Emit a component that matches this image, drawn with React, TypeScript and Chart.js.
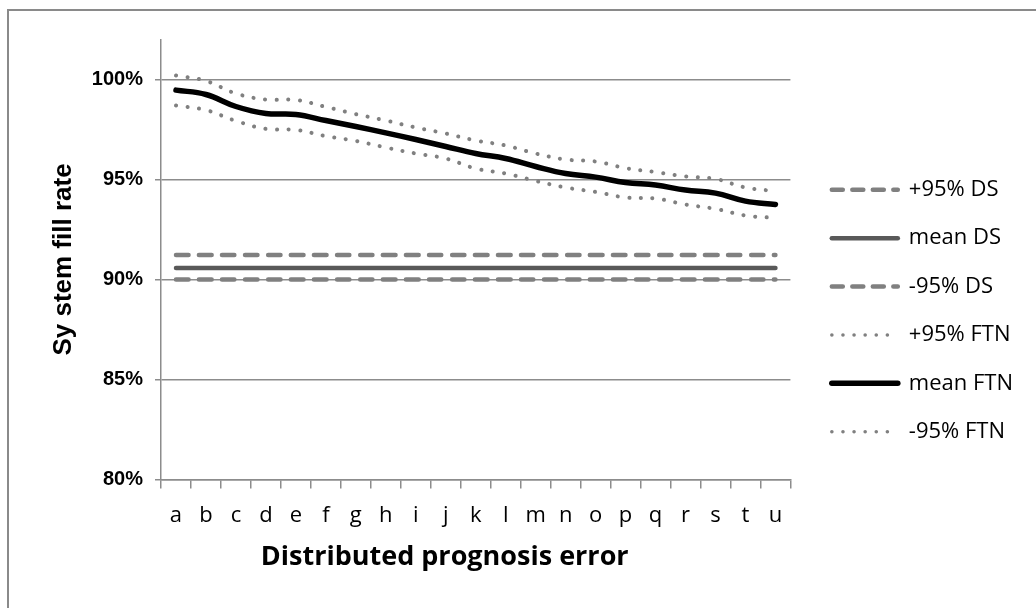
import React, { useEffect, useRef } from "react";
import { Chart, registerables } from "chart.js";

Chart.register(...registerables);

const categories = ["a", "b", "c", "d", "e", "f", "g", "h", "i", "j", "k", "l", "m", "n", "o", "p", "q", "r", "s", "t", "u"];

const upperDS = [91.22, 91.22, 91.22, 91.22, 91.22, 91.22, 91.22, 91.22, 91.22, 91.22, 91.22, 91.22, 91.22, 91.22, 91.22, 91.22, 91.22, 91.22, 91.22, 91.22, 91.22];
const meanDS = [90.57, 90.57, 90.57, 90.57, 90.57, 90.57, 90.57, 90.57, 90.57, 90.57, 90.57, 90.57, 90.57, 90.57, 90.57, 90.57, 90.57, 90.57, 90.57, 90.57, 90.57];
const lowerDS = [90.0, 90.0, 90.0, 90.0, 90.0, 90.0, 90.0, 90.0, 90.0, 90.0, 90.0, 90.0, 90.0, 90.0, 90.0, 90.0, 90.0, 90.0, 90.0, 90.0, 90.0];

const upperFTN = [100.2, 99.93, 99.3, 99.0, 98.98, 98.63, 98.27, 97.95, 97.6, 97.3, 96.95, 96.7, 96.3, 96.0, 95.9, 95.57, 95.37, 95.15, 95.03, 94.6, 94.42];
const meanFTN = [99.47, 99.25, 98.65, 98.3, 98.25, 97.95, 97.65, 97.33, 97.0, 96.65, 96.3, 96.05, 95.65, 95.3, 95.12, 94.85, 94.72, 94.47, 94.32, 93.92, 93.75];
const lowerFTN = [98.7, 98.47, 97.93, 97.53, 97.48, 97.17, 96.93, 96.6, 96.3, 96.05, 95.55, 95.3, 94.93, 94.6, 94.38, 94.1, 94.05, 93.75, 93.53, 93.2, 93.08];

const yTicks = [80, 85, 90, 95, 100];
const seriesLabels = ["+95% DS", "mean DS", "-95% DS", "+95% FTN", "mean FTN", "-95% FTN"];
const xTitle = "Distributed prognosis error";
const yTitle = "Sy stem fill rate";

const GRID = "#8c8c8c";
const GRAY = "#808080";
const DARK = "#595959";

const LEGEND_DX = 15;
const LEGEND_DY = -13;
const XTITLE_SHIFT = -31;

export default function App() {
  const ref = useRef<HTMLCanvasElement | null>(null);

  useEffect(() => {
    if (!ref.current) return;
    const mk = (label: string, data: number[], color: string, width: number, dash: number[]) => ({
      label,
      data,
      borderColor: color,
      backgroundColor: color,
      borderWidth: width,
      borderDash: dash,
      borderCapStyle: "round" as const,
      borderJoinStyle: "round" as const,
      pointRadius: 0,
      pointHoverRadius: 0,
      pointStyle: "line" as const,
      tension: 0.4,
      fill: false,
    });

    const legendShift = {
      id: "legendShift",
      afterLayout(chart: any) {
        const l = chart.legend;
        if (!l) return;
        l.left += LEGEND_DX;
        l.right += LEGEND_DX;
        l.top += LEGEND_DY;
        l.bottom += LEGEND_DY;
      },
    };

    const xTitlePlugin = {
      id: "xTitlePlugin",
      afterDraw(chart: any) {
        const { ctx, chartArea } = chart;
        ctx.save();
        ctx.font = "bold 27px 'Open Sans'";
        ctx.fillStyle = "#000";
        ctx.textAlign = "center";
        ctx.textBaseline = "middle";
        ctx.fillText(xTitle, (chartArea.left + chartArea.right) / 2 + XTITLE_SHIFT, chartArea.bottom + 78);
        ctx.restore();
      },
    };

    const chart = new Chart(ref.current, {
      type: "line",
      data: {
        labels: categories,
        datasets: [
          mk(seriesLabels[0], upperDS, GRAY, 4.5, [12.5, 10.5]),
          mk(seriesLabels[1], meanDS, DARK, 4.5, []),
          mk(seriesLabels[2], lowerDS, GRAY, 4.5, [12.5, 10.5]),
          mk(seriesLabels[3], upperFTN, GRAY, 4, [0.1, 11.5]),
          mk(seriesLabels[4], meanFTN, "#000000", 5.5, []),
          mk(seriesLabels[5], lowerFTN, GRAY, 4, [0.1, 11.5]),
        ],
      },
      options: {
        responsive: false,
        animation: false,
        devicePixelRatio: 1,
        layout: { padding: { top: 39.5, right: 28, bottom: 0, left: 0 } },
        plugins: {
          tooltip: { enabled: false },
          title: { display: false },
          legend: {
            display: true,
            position: "right",
            labels: {
              usePointStyle: true,
              pointStyle: "line",
              pointStyleWidth: 66,
              padding: 26.4,
              color: "#000",
              font: { family: "'Open Sans'", size: 22 },
              generateLabels: (c: any) => {
                const items = Chart.defaults.plugins.legend.labels.generateLabels(c);
                items.forEach((it: any) => {
                  const ds = c.data.datasets[it.datasetIndex];
                  const dotted = ds.borderDash.length && ds.borderDash[0] < 1;
                  it.lineDash = ds.borderDash.length ? (dotted ? [0.1, 11] : [11, 9.5]) : [];
                  it.lineWidth = dotted ? 3.5 : ds.borderWidth;
                  it.lineCap = "round";
                  it.strokeStyle = ds.borderColor;
                  it.fillStyle = ds.borderColor;
                });
                return items;
              },
            },
          },
        },
        scales: {
          x: {
            type: "category",
            offset: true,
            grid: { offset: true, drawOnChartArea: false, drawTicks: true, tickLength: 9, color: GRID, lineWidth: 1.5 },
            border: { display: true, color: GRID, width: 1.5 },
            ticks: {
              color: "#000",
              font: { family: "'Open Sans'", size: 22 },
              padding: 14,
              autoSkip: false,
              maxRotation: 0,
            },
            afterFit: (s: any) => {
              s.height = 128.5;
            },
          },
          y: {
            min: 80,
            max: 102,
            afterBuildTicks: (s: any) => {
              s.ticks = yTicks.map((v) => ({ value: v }));
            },
            grid: { color: GRID, lineWidth: 1.5, tickLength: 6 },
            border: { display: true, color: GRID, width: 1.5 },
            ticks: {
              color: "#000",
              font: { family: "'Liberation Sans'", size: 20, weight: "bold" },
              padding: 12,
              callback: (v: any) => v + "%",
            },
            title: {
              display: true,
              text: yTitle,
              color: "#000",
              font: { family: "'Liberation Sans'", size: 26, weight: "bold" },
              padding: { top: 48, bottom: 0 },
            },
            afterFit: (s: any) => {
              s.width = 161;
            },
          },
        },
      },
      plugins: [legendShift, xTitlePlugin],
    } as any);

    return () => chart.destroy();
  }, []);

  return (
    <div style={{ position: "fixed", left: 0, top: 0, width: 1036, height: 608, overflow: "hidden", background: "#fff" }}>
      <div
        style={{
          position: "absolute",
          left: 7,
          top: 9,
          width: 1100,
          height: 700,
          border: "2px solid #8a8a8a",
          boxSizing: "border-box",
        }}
      />
      <canvas ref={ref} width={1036} height={608} style={{ position: "absolute", left: 0, top: 0, width: 1036, height: 608 }} />
    </div>
  );
}
